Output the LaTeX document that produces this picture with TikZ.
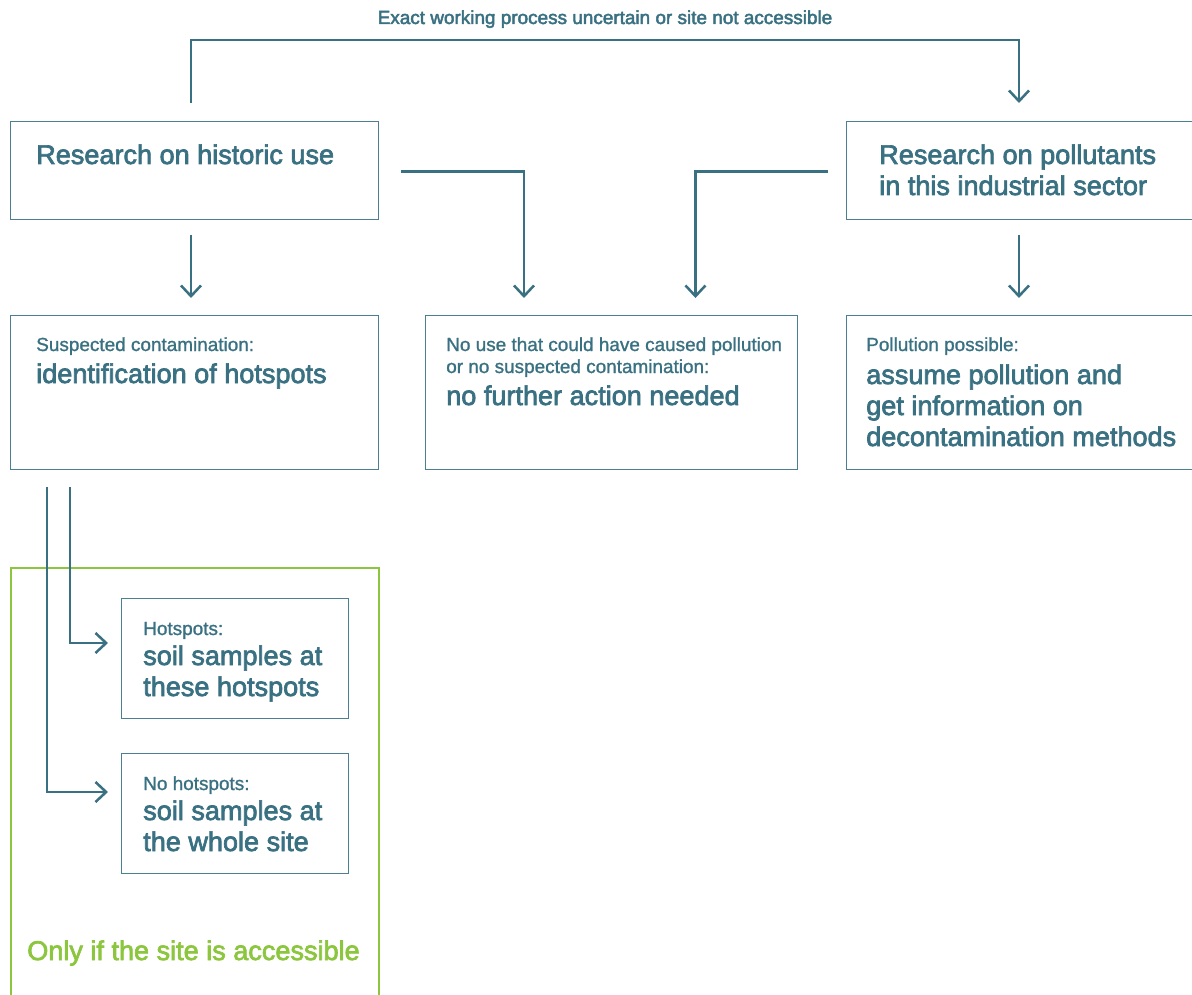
\documentclass[tikz,border=0pt]{standalone}
\usepackage{fontspec}
\setmainfont{Liberation Sans}
\newfontfamily\medfont{Liberation Sans}[FakeBold=2.6]
\newfontfamily\semfont{Liberation Sans}[FakeBold=1.2]
\usetikzlibrary{calc,arrows.meta}
\definecolor{tealc}{HTML}{3A7182}
\definecolor{boxc}{HTML}{4A8091}
\definecolor{leaf}{HTML}{8CC63F}
\tikzset{
  box/.style n args={2}{draw=boxc, line width=1.1pt, minimum width=#1*0.75pt,
    minimum height=#2*0.75pt, anchor=north west, inner sep=0pt},
  conn/.style={draw=tealc, line width=1.9pt},
  arr/.style={conn, -{Straight Barb[length=8pt,width=15pt,line width=1.9pt]}},
  smalltxt/.style={font=\semfont\fontsize{14.2}{16.5}\selectfont, text=tealc, inner sep=0pt, anchor=base west},
  bigtxt/.style={font=\medfont\fontsize{20.3}{23.25}\selectfont, text=tealc, inner sep=0pt, anchor=base west},
}
\begin{document}
\begin{tikzpicture}[x=0.75pt,y=-0.75pt]
\useasboundingbox (0,0) rectangle (1192,995);
\clip (0,0) rectangle (1192,995);
% title
\node[smalltxt, font=\medfont\fontsize{14.2}{16.5}\selectfont, anchor=base] (title) at (605,24) {Exact working process uncertain or site not accessible};
% boxes
\node[box={368}{98}] (A) at (10,121) {};
\node[box={360}{98}] (B) at (846,121) {};
\node[box={368}{154}] (C) at (10,315) {};
\node[box={372}{154}] (D) at (425,315) {};
\node[box={360}{154}] (E) at (846,315) {};
\node[draw=leaf, line width=1.6pt, minimum width=368*0.75pt, minimum height=450*0.75pt, anchor=north west, inner sep=0pt] (acc) at (10,567) {};
\node[box={227}{120}] (F) at (121,598) {};
\node[box={227}{120}] (G) at (121,753) {};
% texts
\node[bigtxt] (Atx) at ($(A.north west)+(26,43)$) {Research on historic use};
\node[bigtxt] (Btx) at ($(B.north west)+(33,43)$) {\begin{tabular}[t]{@{}l@{}}Research on pollutants\\ in this industrial sector\end{tabular}};
\node[smalltxt] (Csm) at ($(C.north west)+(26,36)$) {Suspected contamination:};
\node[bigtxt] (Cbg) at ($(C.north west)+(26,68)$) {identification of hotspots};
\node[smalltxt] (Dsm) at ($(D.north west)+(21,36)$) {\begin{tabular}[t]{@{}l@{}}No use that could have caused pollution\\ or no suspected contamination:\end{tabular}};
\node[bigtxt] (Dbg) at ($(D.north west)+(21,90)$) {no further action needed};
\node[smalltxt] (Esm) at ($(E.north west)+(20,36)$) {Pollution possible:};
\node[bigtxt] (Ebg) at ($(E.north west)+(20,69)$) {\begin{tabular}[t]{@{}l@{}}assume pollution and\\ get information on\\ decontamination methods\end{tabular}};
\node[smalltxt] (Fsm) at ($(F.north west)+(22,37)$) {Hotspots:};
\node[bigtxt] (Fbg) at ($(F.north west)+(22,67)$) {\begin{tabular}[t]{@{}l@{}}soil samples at\\ these hotspots\end{tabular}};
\node[smalltxt] (Gsm) at ($(G.north west)+(22,37)$) {No hotspots:};
\node[bigtxt] (Gbg) at ($(G.north west)+(22,67)$) {\begin{tabular}[t]{@{}l@{}}soil samples at\\ the whole site\end{tabular}};
\node[bigtxt, text=leaf] (acctx) at ($(acc.north west)+(17,393)$) {Only if the site is accessible};
% connectors
\draw[arr] ($(A.north west)+(181,-18)$) -- ($(A.north west)+(181,-81)$) -| ($(B.north west)+(173,-18)$);
\draw[arr] ($(A.south west)+(181,15)$) -- ($(C.north west)+(181,-17)$);
\draw[arr] ($(A.east)+(22,1)$) -| ($(D.north west)+(99,-17)$);
\draw[arr] ($(B.west)+(-18,1)$) -| ($(D.north east)+(-103,-17)$);
\draw[arr] ($(B.south west)+(173,15)$) -- ($(E.north west)+(173,-17)$);
\draw[arr] ($(C.south west)+(60,17)$) |- ($(F.north west)+(-13,45)$);
\draw[arr] ($(C.south west)+(37,17)$) |- ($(G.north west)+(-13,39)$);
\end{tikzpicture}
\end{document}
